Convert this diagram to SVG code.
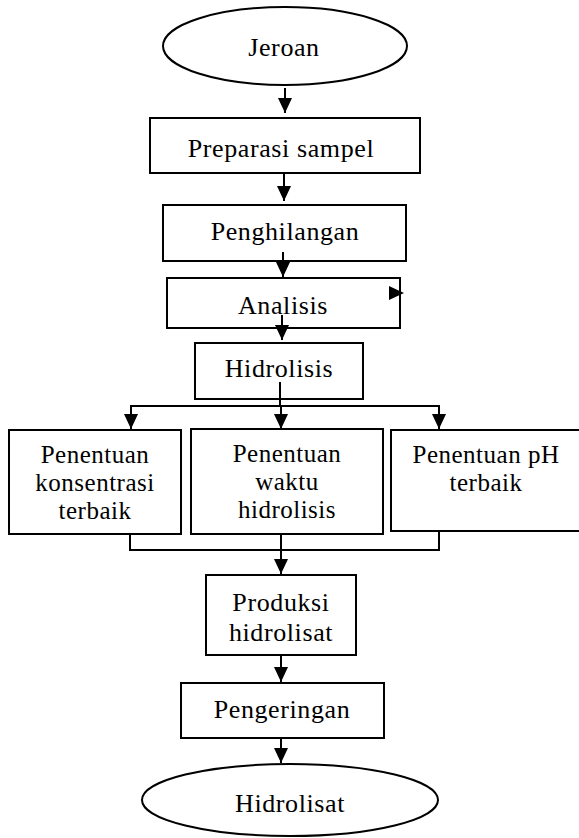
<svg xmlns="http://www.w3.org/2000/svg" width="579" height="838" viewBox="0 0 579 838">
<style>
.n{fill:#fff;stroke:#000;stroke-width:2}
.t{font-family:"Liberation Serif","Times New Roman",serif;font-size:26px;letter-spacing:0.6px;fill:#000;text-anchor:middle}
.s{font-size:25px;letter-spacing:0.5px}
.c{fill:none;stroke:#000;stroke-width:2}
</style>
<defs>
<marker id="ah" markerUnits="userSpaceOnUse" markerWidth="15" markerHeight="14" refX="15" refY="7" orient="auto">
<path d="M0,0 L15,7 L0,14 z" fill="#000"/>
</marker>
</defs>
<rect width="579" height="838" fill="#fff"/>
<g id="jeroan">
<ellipse class="n" cx="285" cy="46" rx="122" ry="39"/>
<text class="t" x="284" y="56">Jeroan</text>
</g>
<g id="preparasi">
<rect class="n" x="150" y="118" width="270" height="55"/>
<text class="t" x="281" y="157">Preparasi sampel</text>
</g>
<g id="penghilangan">
<rect class="n" x="163" y="205" width="243" height="56"/>
<text class="t" x="285" y="240">Penghilangan</text>
</g>
<g id="analisis">
<rect class="n" x="167" y="278" width="233" height="50"/>
<text class="t" x="283" y="314">Analisis</text>
</g>
<g id="hidrolisis">
<rect class="n" x="195" y="343" width="168" height="56"/>
<text class="t" x="279" y="377">Hidrolisis</text>
</g>
<g id="konsentrasi">
<rect class="n" x="9" y="430" width="172" height="104"/>
<text class="t s" x="95" y="463">Penentuan</text>
<text class="t s" x="95" y="491">konsentrasi</text>
<text class="t s" x="95" y="519">terbaik</text>
</g>
<g id="waktu">
<rect class="n" x="191" y="429" width="192" height="105"/>
<text class="t s" x="287" y="462">Penentuan</text>
<text class="t s" x="287" y="490">waktu</text>
<text class="t s" x="287" y="518">hidrolisis</text>
</g>
<g id="ph">
<rect class="n" x="391" y="430" width="192" height="101"/>
<text class="t s" x="486" y="463">Penentuan pH</text>
<text class="t s" x="486" y="491">terbaik</text>
</g>
<g id="produksi">
<rect class="n" x="206" y="575" width="150" height="80"/>
<text class="t" x="281" y="611">Produksi</text>
<text class="t" x="281" y="641">hidrolisat</text>
</g>
<g id="pengeringan">
<rect class="n" x="181" y="683" width="203" height="55"/>
<text class="t" x="282" y="718">Pengeringan</text>
</g>
<g id="hidrolisat">
<ellipse class="n" cx="290" cy="800" rx="148" ry="36"/>
<text class="t" x="290" y="812">Hidrolisat</text>
</g>
<g id="connectors">
<line class="c" x1="285" y1="88" x2="285" y2="113" marker-end="url(#ah)"/>
<line class="c" x1="284" y1="173" x2="284" y2="201" marker-end="url(#ah)"/>
<line class="c" x1="283" y1="252" x2="283" y2="277" marker-end="url(#ah)"/>
<path d="M389,286 L404,293 L389,300 z" fill="#000"/>
<line class="c" x1="282" y1="315" x2="282" y2="340" marker-end="url(#ah)"/>
<line class="c" x1="280" y1="382" x2="280" y2="406"/>
<line class="c" x1="130" y1="406" x2="440" y2="406"/>
<line class="c" x1="131" y1="405" x2="131" y2="429" marker-end="url(#ah)"/>
<line class="c" x1="281" y1="405" x2="281" y2="429" marker-end="url(#ah)"/>
<line class="c" x1="439" y1="405" x2="439" y2="429" marker-end="url(#ah)"/>
<path class="c" d="M130,534 V550 H439 V531"/>
<line class="c" x1="281" y1="534" x2="281" y2="550"/>
<line class="c" x1="281" y1="550" x2="281" y2="574" marker-end="url(#ah)"/>
<line class="c" x1="281" y1="655" x2="281" y2="682" marker-end="url(#ah)"/>
<line class="c" x1="281" y1="738" x2="281" y2="763" marker-end="url(#ah)"/>
</g>
</svg>
